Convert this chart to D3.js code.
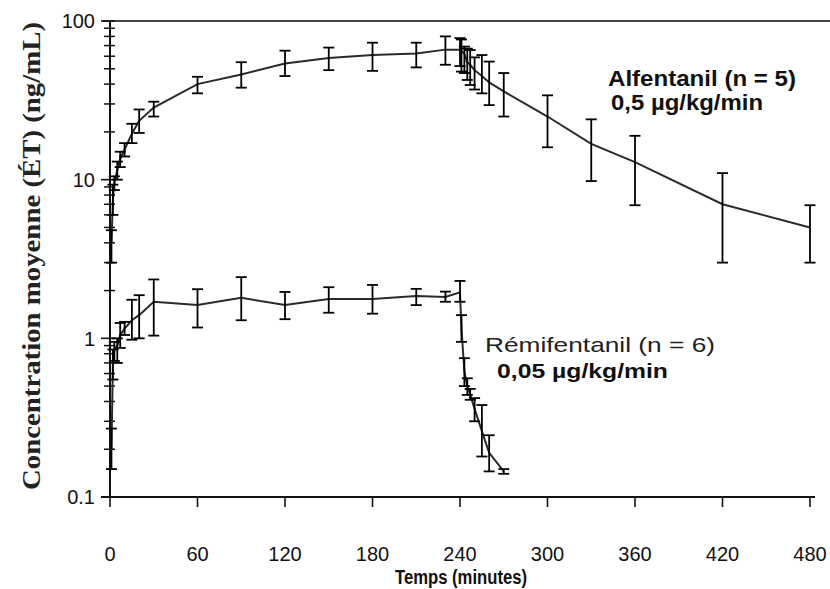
<!DOCTYPE html>
<html>
<head>
<meta charset="utf-8">
<script src="https://cdn.jsdelivr.net/npm/d3@7"></script>
<style>
    body { margin: 0; background: #fff; }
    svg { display: block; }
</style>
</head>
<body>
<svg id="chart" width="830" height="589"></svg>
<script>
// Alfentanil 0,5 µg/kg/min (n = 5) : time (min), mean, mean - SD, mean + SD
const alfTimes = [1, 2, 3, 5, 7, 10, 15, 20, 30, 60, 90, 120, 150, 180, 210, 230,
                  240, 241, 243, 245, 247, 250, 255, 260, 270, 300, 330, 360, 420, 480];
const alfMean  = [4.0, 7.5, 9.5, 11.5, 13.5, 15.5, 19.5, 23.5, 28.5, 40, 46, 54, 58.5, 61, 62.5, 66,
                  66, 65, 62, 55, 53, 49, 45, 41, 36, 25, 16.8, 12.9, 7.0, 5.0];
const alfLow   = [3.0, 6.0, 8.6, 10.0, 12.0, 14.0, 17.0, 19.7, 25, 35, 38, 45, 49, 48.5, 51, 53,
                  52, 48, 47, 42.5, 39.5, 37, 35, 29.5, 25, 16, 9.8, 6.9, 3.0, 3.0];
const alfHigh  = [4.8, 9.3, 10.5, 13.0, 15.0, 17.0, 22.5, 27.7, 31, 44.5, 55, 65, 68, 73, 73, 80,
                  78, 76.5, 69, 67, 65.6, 59, 61, 55.5, 47, 34, 24, 18.9, 11, 6.9];

// Rémifentanil 0,05 µg/kg/min (n = 6)
const remTimes = [1, 2, 3, 5, 7, 10, 15, 20, 30, 60, 90, 120, 150, 180, 210, 230,
                  240, 241, 243, 245, 247, 250, 255, 260, 270];
const remMean  = [0.2, 0.7, 0.85, 0.9, 1.05, 1.15, 1.3, 1.4, 1.7, 1.62, 1.8, 1.62, 1.77, 1.77, 1.85, 1.82,
                  1.95, 1.15, 0.62, 0.5, 0.44, 0.36, 0.26, 0.19, 0.145];
const remLow   = [0.15, 0.55, 0.72, 0.7, 0.87, 1.05, 0.98, 1.0, 1.04, 1.17, 1.3, 1.32, 1.45, 1.43, 1.62, 1.7,
                  1.7, 0.95, 0.5, 0.44, 0.41, 0.3, 0.18, 0.145, 0.14];
const remHigh  = [0.27, 0.85, 0.95, 1.0, 1.25, 1.27, 1.75, 1.87, 2.35, 2.04, 2.43, 1.96, 2.1, 2.17, 2.05, 1.97,
                  2.3, 1.4, 0.75, 0.56, 0.48, 0.42, 0.38, 0.245, 0.15];

const xTicks = [0, 60, 120, 180, 240, 300, 360, 420, 480];
const yTicks = [0.1, 1, 10, 100];
const yTickLabels = ["0.1", "1", "10", "100"];

const svg = d3.select("#chart");

let x = d3.scaleLinear().domain([0, 480]).range([110, 810]);
let y = d3.scaleLog().domain([0.1, 100]).range([497, 21]);

// frame: top line, left axis, bottom axis
svg.append("line")
    .attr("x1", 103).attr("x2", 830).attr("y1", 21).attr("y2", 21)
    .attr("stroke", "#444").attr("stroke-width", 2.2);
svg.append("line")
    .attr("x1", 110).attr("x2", 110).attr("y1", 21).attr("y2", 497)
    .attr("stroke", "#111").attr("stroke-width", 2);
svg.append("line")
    .attr("x1", 101).attr("x2", 815).attr("y1", 497).attr("y2", 497)
    .attr("stroke", "#111").attr("stroke-width", 2);

// x ticks + labels
let xAxis = svg.append("g").attr("class", "x-axis");
xAxis.selectAll("line")
    .data(xTicks)
    .enter().append("line")
    .attr("x1", d => x(d)).attr("x2", d => x(d))
    .attr("y1", 497).attr("y2", 507)
    .attr("stroke", "#111").attr("stroke-width", 1.6);
xAxis.selectAll("text")
    .data(xTicks)
    .enter().append("text")
    .attr("x", d => x(d))
    .attr("y", 561)
    .attr("text-anchor", "middle")
    .style("font-family", "'Liberation Sans', Arial, sans-serif")
    .style("font-size", "20px")
    .attr("fill", "#111")
    .text(d => d);

// y ticks: minor ticks cross the axis, majors stick out to the left
let minor = y.ticks().filter(d => yTicks.indexOf(d) < 0);
let yAxis = svg.append("g").attr("class", "y-axis");
yAxis.selectAll("line.minor")
    .data(minor)
    .enter().append("line")
    .attr("class", "minor")
    .attr("x1", 104).attr("x2", 115)
    .attr("y1", d => y(d)).attr("y2", d => y(d))
    .attr("stroke", "#111").attr("stroke-width", 1.5);
yAxis.selectAll("line.major")
    .data(yTicks)
    .enter().append("line")
    .attr("class", "major")
    .attr("x1", 101).attr("x2", 115)
    .attr("y1", d => y(d)).attr("y2", d => y(d))
    .attr("stroke", "#111").attr("stroke-width", 1.6);
yAxis.selectAll("text")
    .data(yTicks)
    .enter().append("text")
    .attr("x", 95)
    .attr("y", d => y(d))
    .attr("dy", "0.36em")
    .attr("text-anchor", "end")
    .style("font-family", "'Liberation Sans', Arial, sans-serif")
    .style("font-size", "20px")
    .attr("fill", "#111")
    .text((d, i) => yTickLabels[i]);

// series: connecting line, then error bars with caps
function drawSeries(times, mean, low, high) {
    let pts = times.map((t, i) => ({t: t, m: mean[i], lo: low[i], hi: high[i]}));
    let g = svg.append("g");

    let line = d3.line()
        .x(d => x(d.t))
        .y(d => y(d.m));

    g.append("path")
        .datum(pts)
        .attr("d", line)
        .attr("fill", "none")
        .attr("stroke", "#2a2a2a")
        .attr("stroke-width", 2);

    let bars = g.selectAll("g.bar")
        .data(pts)
        .enter().append("g")
        .attr("class", "bar");

    bars.append("line")
        .attr("x1", d => x(d.t)).attr("x2", d => x(d.t))
        .attr("y1", d => y(d.lo)).attr("y2", d => y(d.hi))
        .attr("stroke", "#000").attr("stroke-width", 1.8);
    bars.append("line")
        .attr("x1", d => x(d.t) - 5.5).attr("x2", d => x(d.t) + 5.5)
        .attr("y1", d => y(d.hi)).attr("y2", d => y(d.hi))
        .attr("stroke", "#000").attr("stroke-width", 1.8);
    bars.append("line")
        .attr("x1", d => x(d.t) - 5.5).attr("x2", d => x(d.t) + 5.5)
        .attr("y1", d => y(d.lo)).attr("y2", d => y(d.lo))
        .attr("stroke", "#000").attr("stroke-width", 1.8);
}

drawSeries(alfTimes, alfMean, alfLow, alfHigh);
drawSeries(remTimes, remMean, remLow, remHigh);

// labels
function label(txt, xx, yy, size, weight, len, color) {
    svg.append("text")
        .attr("x", xx).attr("y", yy)
        .attr("textLength", len)
        .attr("lengthAdjust", "spacingAndGlyphs")
        .style("font-family", "'Liberation Sans', Arial, sans-serif")
        .style("font-size", size + "px")
        .style("font-weight", weight)
        .attr("fill", color)
        .text(txt);
}

label("Alfentanil (n = 5)", 608, 86, 22, "bold", 188, "#111");
label("0,5 µg/kg/min", 611, 110, 22, "bold", 152, "#111");
label("Rémifentanil (n = 6)", 485, 352, 21, "normal", 230, "#222");
label("0,05 µg/kg/min", 497, 378, 21, "bold", 171, "#111");
label("Temps (minutes)", 395, 584, 20, "bold", 132, "#111");

svg.append("text")
    .attr("transform", "translate(40,256) rotate(-90)")
    .attr("text-anchor", "middle")
    .attr("textLength", 468)
    .attr("lengthAdjust", "spacingAndGlyphs")
    .style("font-family", "'Liberation Serif', 'Times New Roman', serif")
    .style("font-size", "26px")
    .style("font-weight", "bold")
    .attr("fill", "#222")
    .text("Concentration moyenne (ÉT) (ng/mL)");
</script>
</body>
</html>
